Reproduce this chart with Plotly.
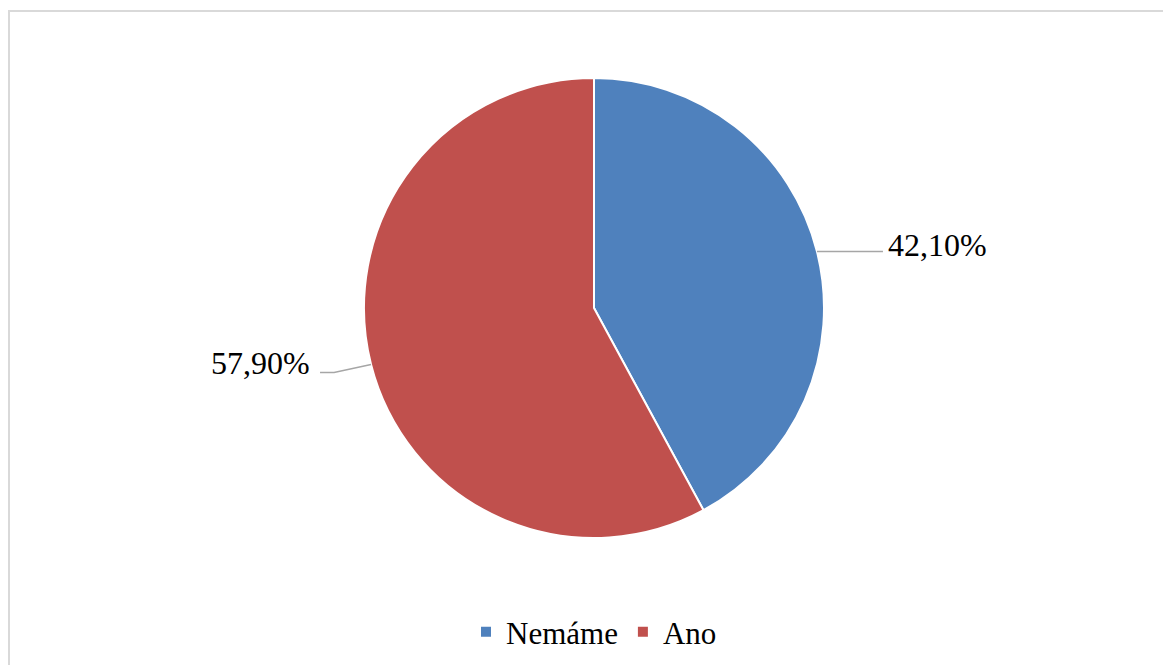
import math
import plotly.graph_objects as go

labels = ["Nemáme", "Ano"]
values = [42.1, 57.9]
text_labels = ["42,10%", "57,90%"]
colors = ["#4F81BD", "#C0504D"]

W, H = 1171, 665
OFF = 8  # page body margin
cx, cy, r = 594, 308, 230  # page coords

def px2paper(x, y):
    return (x - OFF) / W, 1 - (y - OFF) / H

fig = go.Figure()
dx0, dy0 = px2paper(cx - r, cy + r)
dx1, dy1 = px2paper(cx + r, cy - r)
fig.add_trace(go.Pie(
    labels=labels, values=values, sort=False, direction="clockwise", rotation=0,
    marker=dict(colors=colors, line=dict(color="white", width=2)),
    textinfo="none", hoverinfo="label+percent",
    domain=dict(x=[dx0, dx1], y=[dy0, dy1]),
))

total = sum(values)
shapes = []
annotations = []
cum = 0
line_col = "#A6A6A6"
for i, v in enumerate(values):
    mid = (cum + v / 2) / total * 2 * math.pi
    cum += v
    ax = cx + r * math.sin(mid)
    ay = cy - r * math.cos(mid)
    if math.sin(mid) >= 0:
        pts = [(ax, ay), (ax + 66, ay)]
        tx, ty, xa = ax + 69, ay - 7, "left"
    else:
        pts = [(ax, ay), (ax - 37, ay + 8), (ax - 51, ay + 8)]
        tx, ty, xa = ax - 59, ay - 1, "right"
    path = ""
    for j, (x, y) in enumerate(pts):
        px, py = px2paper(x, y)
        path += ("M" if j == 0 else "L") + f"{px},{py} "
    shapes.append(dict(type="path", xref="paper", yref="paper", path=path.strip(),
                       line=dict(color=line_col, width=1.5)))
    tpx, tpy = px2paper(tx, ty)
    annotations.append(dict(x=tpx, y=tpy, xref="paper", yref="paper", text=text_labels[i],
                            showarrow=False, xanchor=xa, yanchor="middle",
                            font=dict(family="Liberation Serif", size=32, color="black")))

# chart border
bx0, by0 = px2paper(9, 680)
bx1, by1 = px2paper(1190, 11)
shapes.append(dict(type="rect", xref="paper", yref="paper", x0=bx0, y0=by0, x1=bx1, y1=by1,
                   line=dict(color="#D9D9D9", width=2), fillcolor="rgba(0,0,0,0)"))

lx, ly = px2paper(cx, 632)
fig.update_layout(
    width=W, height=H, margin=dict(l=0, r=0, t=0, b=0),
    paper_bgcolor="white", plot_bgcolor="white",
    shapes=shapes, annotations=annotations,
    showlegend=True,
    legend=dict(orientation="h", x=lx, xanchor="center", y=ly, yanchor="middle",
                font=dict(family="Liberation Serif", size=31, color="black"),
                itemclick=False, bgcolor="rgba(0,0,0,0)"),
)
fig.write_html("out.html")
